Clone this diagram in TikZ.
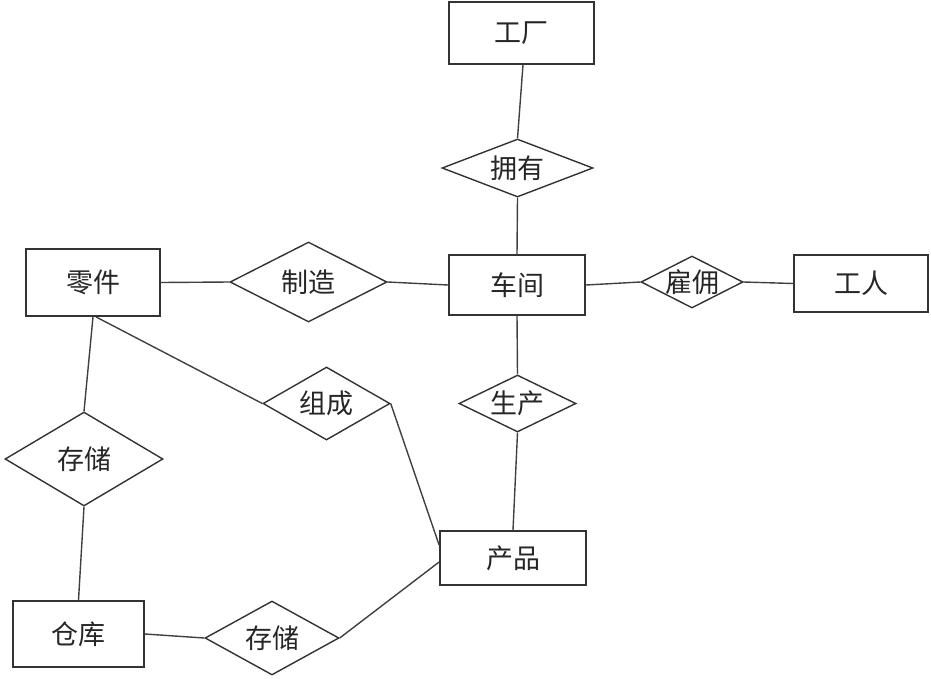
\documentclass[tikz,border=0pt]{standalone}
\usepackage{fontspec}
\newfontfamily\cjk{Noto Sans CJK SC}
\usetikzlibrary{shapes.geometric}
\begin{document}
\begin{tikzpicture}[x=1pt,y=-1pt,
  ent/.style={draw=black!80, line width=1.8pt, fill=white, rectangle, inner sep=0pt,
    font=\cjk\fontsize{27}{30}\selectfont, text=black!85},
  rel/.style={draw=black!80, line width=1.4pt, fill=white, diamond, inner sep=0pt},
  lbl/.style={font=\cjk\fontsize{27}{30}\selectfont, text=black!85, inner sep=0pt},
  conn/.style={draw=black!75, line width=1.4pt}]
\useasboundingbox (0,0) rectangle (931,678);
% entities
\node[ent, minimum width=145pt, minimum height=62pt] (gc) at (521.5,33) {工厂};
\node[ent, minimum width=136pt, minimum height=60pt] (cj) at (517,285) {车间};
\node[ent, minimum width=134pt, minimum height=67pt] (lj) at (93,282.5) {零件};
\node[ent, minimum width=134pt, minimum height=57pt] (gr) at (861,283.5) {工人};
\node[ent, minimum width=146pt, minimum height=54pt] (cp) at (513,558) {产品};
\node[ent, minimum width=131pt, minimum height=66pt] (ck) at (78.5,634) {仓库};
% relationships
\node[rel, minimum width=151pt, minimum height=58pt, label={[lbl]center:拥有}] (yy) at (517.5,168) {};
\node[rel, minimum width=157pt, minimum height=80pt, label={[lbl]center:制造}] (zz) at (308.5,282) {};
\node[rel, minimum width=127pt, minimum height=73pt, label={[lbl]center:组成}] (zc) at (326.5,403.5) {};
\node[rel, minimum width=117pt, minimum height=57pt, label={[lbl]center:生产}] (sc) at (517.5,403.5) {};
\node[rel, minimum width=102pt, minimum height=52pt, label={[lbl]center:雇佣}] (gy) at (692,282) {};
\node[rel, minimum width=158pt, minimum height=94pt, label={[lbl]center:存储}] (cc1) at (84,459) {};
\node[rel, minimum width=134pt, minimum height=74pt, label={[lbl]center:存储}] (cc2) at (272,638) {};
% connectors
\draw[conn] ([xshift=1.5pt]gc.south) -- (yy.north);
\draw[conn] (yy.south) -- (cj.north);
\draw[conn] (lj.east) -- (zz.west);
\draw[conn] (zz.east) -- (cj.west);
\draw[conn] (cj.east) -- (gy.west);
\draw[conn] (gy.east) -- (gr.west);
\draw[conn] (cj.south) -- (sc.north);
\draw[conn] (sc.south) -- (cp.north);
\draw[conn] ([xshift=3pt]lj.south) -- (zc.west);
\draw[conn] (lj.south) -- (cc1.north);
\draw[conn] (zc.east) -- ([yshift=13pt]cp.west);
\draw[conn] (cc1.south) -- (ck.north);
\draw[conn] (ck.east) -- (cc2.west);
\draw[conn] (cc2.east) -- ([yshift=-4pt]cp.west);
\end{tikzpicture}
\end{document}
